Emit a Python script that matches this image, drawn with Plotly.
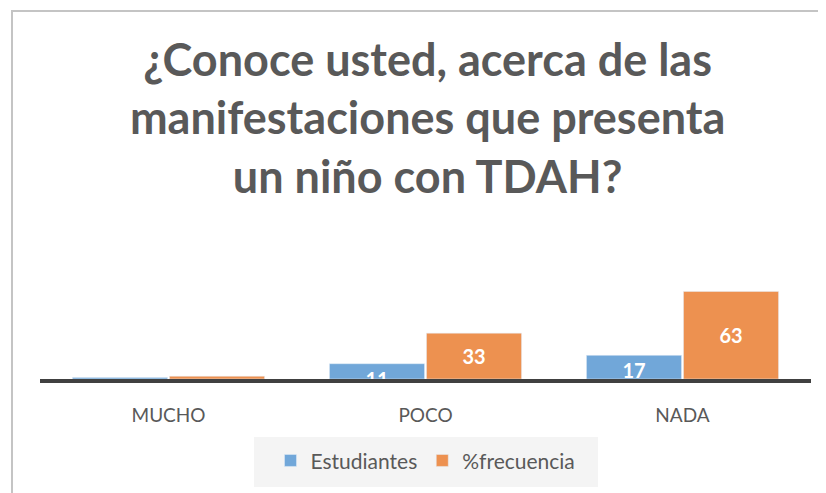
import plotly.graph_objects as go

categorias = ['MUCHO', 'POCO', 'NADA']
estudiantes = [1, 11, 17]
frecuencia = [2, 33, 63]
etiquetas_est = ['', '11', '17']
etiquetas_frec = ['', '33', '63']

azul = '#71a7d9'
naranja = '#ed9150'
gris = '#595959'

fig = go.Figure()
fig.add_trace(go.Bar(x=categorias, y=estudiantes, name='Estudiantes',
                     marker_color=azul, text=etiquetas_est,
                     textposition='inside', insidetextanchor='end'))
fig.add_trace(go.Bar(x=categorias, y=frecuencia, name='%frecuencia',
                     marker_color=naranja, text=etiquetas_frec,
                     textposition='inside', insidetextanchor='middle'))

fig.update_traces(textfont=dict(family='Lato', size=20, color='white', weight='bold'),
                  constraintext='none', textangle=0)

titulo = '¿Conoce usted, acerca de las<br>manifestaciones que presenta<br>un niño con TDAH?'

# la página añade 8px de margen al cuerpo, por eso 818x485
fig.update_layout(
    width=818, height=485,
    margin=dict(l=32, r=15, t=232, b=114),
    paper_bgcolor='white', plot_bgcolor='white',
    barmode='group', bargap=0.245, bargroupgap=0.02,
    uniformtext=dict(minsize=20, mode='show'),
    title=dict(text=titulo, x=0.513, xanchor='center', y=0.86, yanchor='top',
               font=dict(family='Lato', size=45, color=gris, weight='bold')),
    font=dict(family='Lato', color=gris),
    legend=dict(orientation='h', x=0.5, xanchor='center', y=-0.441, yanchor='top',
                bgcolor='rgba(0,0,0,0)', font=dict(size=21, color=gris),
                traceorder='normal'),
    showlegend=True,
)
fig.update_xaxes(showline=True, linecolor='#404040', linewidth=4, ticks='',
                 tickfont=dict(size=19, color=gris), ticklabelstandoff=16)
fig.update_yaxes(visible=False, range=[0, 100], showgrid=False)

# marco del gráfico
fig.add_shape(type='rect', xref='paper', yref='paper',
              x0=-0.0363, x1=1.15, y0=-0.95, y1=2.647,
              line=dict(color='#c4c4c4', width=2), layer='below')
# fondo de la leyenda
fig.add_shape(type='rect', xref='paper', yref='paper',
              x0=0.2776, x1=0.7237, y0=-0.777, y1=-0.4173,
              line=dict(width=0), fillcolor='#f4f4f4', layer='below')

fig.write_html('out.html')
